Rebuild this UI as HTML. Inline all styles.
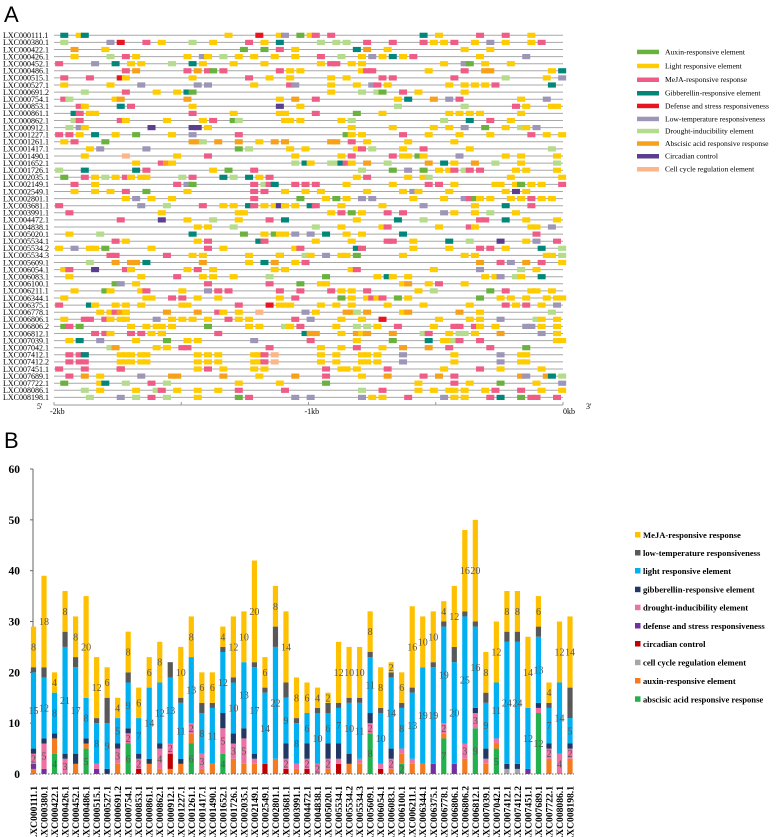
<!DOCTYPE html>
<html><head><meta charset="utf-8">
<style>
html,body{margin:0;padding:0;background:#fff;}
svg{display:block;font-family:"Liberation Serif",serif;}
</style></head>
<body>
<svg id="fig" width="777" height="837" viewBox="0 0 777 837" xmlns="http://www.w3.org/2000/svg">
<text x="4" y="22" font-family="Liberation Sans, sans-serif" font-size="22">A</text>
<text x="4" y="448" font-family="Liberation Sans, sans-serif" font-size="22">B</text>
<g id="pa"></g>
<g id="pb"></g>
</svg>
<script>
const genes = ["LXC000111.1","LXC000380.1","LXC000422.1","LXC000426.1","LXC000452.1","LXC000486.1","LXC000515.1","LXC000527.1","LXC000691.2","LXC000754.1","LXC000853.1","LXC000861.1","LXC000862.1","LXC000912.1","LXC001227.1","LXC001261.1","LXC001417.1","LXC001490.1","LXC001652.1","LXC001726.1","LXC002035.1","LXC002149.1","LXC002549.1","LXC002801.1","LXC003681.1","LXC003991.1","LXC004472.1","LXC004838.1","LXC005020.1","LXC005534.1","LXC005534.2","LXC005534.3","LXC005609.1","LXC006054.1","LXC006083.1","LXC006100.1","LXC006211.1","LXC006344.1","LXC006375.1","LXC006778.1","LXC006806.1","LXC006806.2","LXC006812.1","LXC007039.1","LXC007042.1","LXC007412.1","LXC007412.2","LXC007451.1","LXC007689.1","LXC007722.1","LXC008086.1","LXC008198.1"];
// Panel A element positions (percent of -2kb..0kb) with type code
const elementRows = [
"G2 L5 G6 L34 D40 L44 T45 A48 L50 M51 M54 G72 L75 M83 M88 L93",
"R2 T11 D13 M18 L21 R27 L31 M38 L41 G44 R52 R55 R57 M61 M66 M72 L74 L76 M78 L82 T85 L88 L93 M95",
"B4 L10 A37 A41 M44 L47 G59 B61 L65 L80 L85",
"L4 R11 M14 L16 L26 T29 L30 R33 L36 L39 L43 L47 M52 R56 L60 T62 L64 G66 L68 M70 L83 T92",
"M1 T8 G12 L15 L17 R23 G27 L29 L35 L41 L52 M54 M55 L58 L60 L76 T80 A81 L84 L89",
"M14 B16 M26 B28 M30 A31 M33 M44 L46 L48 L60 M61 M62 L73 M80 B84 B85 L97 G99",
"M2 M7 D13 L14 L27 M38 L42 L46 L54 L57 M64 M66 M78 R88 L96 T99",
"L2 L11 T17 T28 T30 L39 M46 T47 L54 L59 T62 M63 L65 L77 L80 L82 L84 M86 G97",
"R6 M14 L20 L24 G26 A27 L54 R60 R63 A64 M68 L71 L80",
"M2 R3 L12 B13 B26 L44 B47 M51 L67 G69 B74 T77 M79 L91 T96",
"M5 L6 G13 M15 L27 C44 L48 R67 R80 M90 L92 L97 L98",
"G4 M5 L7 L8 M27 L35 L44 L45 M51 A59 L64 L77 L79 L81 L83 L91",
"R4 M5 M13 L14 L22 L29 M31 A35 R36 L45 L46 L48 L56 R58 R76 G81 M85 L89",
"R3 T5 L6 C19 C27 C28 L30 L58 L66 L74 L77 T80 A84 L88 R91 L92 T94",
"M1 M3 L5 G8 L12 A16 L23 T27 M36 A57 L58 L60 M68 L73 L79 L85 M93 L96 L99",
"L2 M4 A10 B27 B28 R29 B32 B36 L40 B43 B45 B54 B55 M58 L61 L69 L78",
"L7 T9 T18 A36 R38 L46 L49 L59 M60 R62 L68 M72 L81 R97",
"L6 E14 L24 M30 L47 L56 M58 M66 L68 L69 A71 L72 T79 L88 L91 L98",
"L16 M21 B22 L23 R47 G49 L50 R54 R55 G56 M57 L58 B61 R65 B73 G76 L78 B82 R86 L91 R98",
"R1 G6 G16 M18 L31 A34 M39 R60 A66 T69 A72 L75 L77 M78 R80 M81 M83 L90 L92 L98",
"A2 M6 L8 R10 L12 M14 L15 L17 L18 R25 M27 G33 R35 G38 L40 M42 L59 M61 L69 L72 R73 L89 L99",
"M4 L8 L24 M24 T26 A27 M39 R41 M42 G43 M47 M49 M51 L57 L66 M73 M75 L78 L86 L87 L90 A91 L93 L95 M99",
"L4 L8 L11 M14 A18 L26 M39 M41 L45 L49 L52 L61 L68 T70 L71 L77 L88 C90 L92",
"L14 T16 L19 L23 M39 A48 L53 A55 L57 T60 T62 L70 L76 T80 M81 A82 L83 L85 L89 L91 M93 L95 L97",
"M1 T17 R22 M29 L33 L35 G38 M39 L41 L43 C44 L45 L47 G50 M51 L56 L64 T72 L82 G88 M93",
"M3 L21 L36 L37 L54 M56 A58 L60 M65 M68 T76 L78 L82 R85 L90",
"M13 C21 L26 R31 L36 M42 G45 L59 G67 R72 M83 M84 G88 L92 L98",
"L28 L30 R35 R51 L56 L64 M65 L75 M81 L82 L93 L94 T97",
"L3 R9 G27 A37 L41 A43 L44 L45 T47 T50 G53 L57 L60 G68 M94",
"M12 L14 L28 M30 G40 M41 L51 L58 M65 M66 L70 G77 R81 C87 L92 T94 M98",
"L1 T4 L7 L8 A10 L19 M30 L33 L47 M48 G59 M60 L70 L77 M83 M85 L88 G95 R99",
"M11 M12 M22 L27 L29 L38 A44 L44 R49 L50 T53 L56 L57 A59 L68 L80 L82 L96 L97 R99",
"R7 B12 B15 B16 G18 B29 L38 G41 B43 L47 M49 B83 M87 T89 B92 M95 L99",
"L2 M3 C8 M14 L15 L26 M28 L31 L43 L45 L58 M59 L74 T83 R91 L94",
"L3 L17 M24 L29 L31 L35 R42 A53 L63 G65 L66 L69 L84 L86 T87 R90 L91 G95",
"A12 T13 L16 M30 M42 A48 L52 L53 L68 B69 L73 M75 L80",
"L4 A10 L11 L17 M18 L25 T30 M32 M34 M44 M48 M54 L56 L58 M61 L71 R74 A85 M88 L93 L94 L97",
"L2 L18 L19 M23 M25 L28 L32 L44 M47 A56 L58 L61 M62 L63 M64 A67 L69 A83 L87 L89 L92 L96 L98 L99",
"M1 G7 L8 L12 L14 L17 L25 L26 M36 D42 L44 L45 L46 L52 L55 L58 L65 L72 L81 M88 L90 M92 L95 T98",
"L9 L11 M12 B13 B14 L14 B22 B28 M32 L33 L36 E40 T49 L51 B57 B58 R59 B61 L68 B69 B79 L83 R97",
"L2 M6 M7 M10 L11 L13 L14 T20 L23 L25 L27 L30 M34 L36 L38 M47 T50 L56 L60 D64 L75 L81 L83 T87 R94 L95 L98",
"A2 M3 A5 L15 L18 L20 L21 L23 A30 L38 L40 R45 L46 M48 L55 R59 R61 L63 M67 L74 M78 M79 M82 L83 L86 T92 T93 L95 L98",
"M8 M10 L11 M15 M17 L19 M21 L21 M32 G49 B50 B51 L56 B59 L60 B61 B66 R72 M73 L77 R79 R80 L82 B87 T95 L98",
"L3 G5 T9 L16 A22 L26 L28 T39 M50 L59 A66 G73 L76 L77 R78 M79 M83 L98 L99",
"R11 B12 L20 L22 M25 M26 M42 L52 L56 M59 L64 B68 B73 M77 M85 A92",
"M3 M5 M6 G6 L13 L14 L15 L17 L18 L28 L30 L32 L39 L40 M41 E43 L52 L55 L60 L61 L63 T68 L78 T87 L91 L92",
"M3 M5 M6 L13 L14 L15 L17 L18 L28 L30 L32 L39 L40 M41 E43 L52 L55 L60 L61 L63 T68 L78 T87 L91 L92",
"M1 M6 D13 M13 L28 M30 L33 L39 L41 M53 L56 L57 L59 M65 L76 M83 L87 L95",
"M3 B6 L9 T17 B23 B24 B33 L40 B47 M53 L60 B65 M72 B75 M78 B91 T92 B96 G97 R99",
"A2 L9 G10 R14 M19 R22 L36 L44 A53 L71 M78 L81 A87 L94 T99",
"R6 L9 L16 R20 M21 L24 L28 L32 M36 M45 R60 M64 L71 L74 L77 L78 L80 L84 M86 M91 L95 L99",
"R7 T13 R16 M19 R22 L28 A36 M38 T47 T50 T60 L62 L64 M69 T76 L78 L80 M85 G87 A91 M93 M94 M98"
];
const legendACodes = ["A","L","M","G","D","T","R","B","C","E"];
const legendANames = ["Auxin-responsive element","Light responsive element","MeJA-responsive response","Gibberellin-responsive element","Defense and stress responsiveness","Low-temperature responsiveness","Drought-inducibility element","Abscisic acid responsive response","Circadian control","Cell cycle regulation element"];
const axisATicks = ["-2kb","-1kb","0kb"];

// Panel B series (stack bottom->top)
const sAbscisic = [0,0,4,0,0,5,0,0,0,6,0,0,0,0,0,6,0,0,4,0,0,0,0,0,0,0,0,0,0,0,0,0,8,0,0,2,0,0,0,7,0,0,9,0,5,0,0,0,12,0,0,0];
const sAuxin    = [1,0,3,0,2,1,0,0,2,0,0,2,1,1,2,2,1,2,0,3,2,2,0,3,0,1,0,0,1,0,2,2,0,0,1,2,2,2,0,1,0,3,0,2,1,0,0,0,0,3,0,3];
const sCellCycle= [0,0,0,0,0,0,0,0,0,0,0,0,0,0,0,0,0,0,0,0,0,0,0,0,0,0,0,0,0,0,0,0,0,0,0,0,0,0,0,0,0,0,0,0,0,1,1,0,0,0,0,0];
const sCircadian= [0,0,0,0,0,0,0,0,0,0,1,0,0,3,0,0,0,0,0,0,0,0,2,0,1,0,1,0,0,2,0,0,0,1,0,0,0,0,0,0,0,0,0,0,0,0,0,0,0,0,0,0];
const sDefense  = [1,1,0,0,0,0,1,0,0,0,0,0,0,0,0,0,0,0,0,0,0,0,0,0,0,0,0,0,0,0,0,0,0,0,0,0,0,0,2,0,2,0,0,0,0,0,0,1,0,0,0,0];
const sDrought  = [2,5,0,3,0,0,1,0,3,2,2,0,4,2,0,2,3,0,5,3,5,1,0,0,2,1,2,2,2,1,0,1,2,1,2,1,1,0,0,2,0,3,3,1,1,0,0,0,1,2,4,2];
const sGibber   = [1,1,1,1,2,1,0,1,1,1,1,1,1,0,1,0,0,0,3,2,2,1,0,0,3,0,3,0,3,3,2,0,2,0,2,0,0,0,0,0,0,0,1,2,0,1,1,0,1,1,0,1];
const sLight    = [15,12,8,21,17,8,8,9,5,9,7,14,12,13,11,13,8,11,12,10,13,17,14,22,9,8,6,10,6,7,10,11,11,10,14,8,13,19,19,19,20,25,16,9,11,24,24,12,13,7,14,5];
const sLowTemp  = [1,2,0,3,2,0,1,5,0,2,0,0,0,3,1,0,2,1,1,1,0,1,1,4,3,1,0,1,2,1,1,1,1,1,1,1,1,0,1,1,3,1,1,2,0,2,2,0,2,1,0,6];
const sMeJA     = [8,18,4,8,8,20,12,6,4,8,6,6,8,0,10,8,6,6,4,12,10,20,6,8,14,8,6,4,2,12,10,10,8,8,2,6,16,10,10,4,12,16,20,8,12,8,8,14,6,4,12,14];
const yTicks = [0,10,20,30,40,50,60];
const legendBNames = ["MeJA-responsive response","low-temperature responsiveness","light responsive element","gibberellin-responsive element","drought-inducibility element","defense and stress responsiveness","circadian control","cell cycle regulation element","auxin-responsive element","abscisic acid responsive response"];

const NS="http://www.w3.org/2000/svg";
function mk(tag, attrs, parent){const e=document.createElementNS(NS,tag);for(const k in attrs)e.setAttribute(k,attrs[k]);parent.appendChild(e);return e;}
const colA={A:"#6AB23E",L:"#FFCC00",M:"#EF5D87",G:"#00877A",D:"#E8141F",T:"#9D96B8",R:"#B4DC8C",B:"#F7A11A",C:"#5B3F8E",E:"#FDB68A"};

// ---------- Panel A ----------
const pa=document.getElementById('pa');
const trackX0=54, trackX1=563, row0=35.3, rowStep=7.1;
function xA(p){return 50+p*5.133;}
genes.forEach((g,i)=>{
  const y=row0+i*rowStep;
  const t=mk('text',{x:3,y:y+2.8,'font-size':8},pa);t.textContent=g;
  
  
  const ln=mk('line',{x1:trackX0,x2:trackX1,y1:y,y2:y,stroke:'#a8a8a8','stroke-width':1},pa);
  
  
  const items=(elementRows[i]||"").trim().split(/\s+/);
  items.forEach(it=>{
    const c=it[0], p=parseFloat(it.slice(1));
    const r=mk('rect',{x:xA(p),y:y-2.6,width:8,height:5.2,fill:colA[c]},pa);
    
    
  });
});
// axis A
const axY=405;
mk('line',{x1:trackX0,x2:trackX1,y1:axY,y2:axY,stroke:'#999','stroke-width':1},pa);
[0,1,2,3,4].forEach(k=>{const x=trackX0+k*(trackX1-trackX0)/4;mk('line',{x1:x,x2:x,y1:axY,y2:axY-3,stroke:'#999'},pa);});
const tkPos=[trackX0,trackX0+(trackX1-trackX0)/2,trackX1];
axisATicks.forEach((s,k)=>{const t=mk('text',{x:tkPos[k]+(k==2?0:-4),y:axY+9,'font-size':8},pa);t.textContent=s;
  
  });
let t5=mk('text',{x:37,y:axY+4,'font-size':8},pa);t5.textContent="5'";
let t3=mk('text',{x:586,y:axY+4,'font-size':8},pa);t3.textContent="3'";
// legend A
const legAy=[51.7,65.7,79.5,93,105.7,118.7,130.8,143.3,156,169];
legendACodes.forEach((c,k)=>{
  const y=legAy[k];
  const r=mk('rect',{x:637,y:y-2,width:22,height:4.5,fill:colA[c]},pa);
  
  
  const t=mk('text',{x:665,y:y+2.6,'font-size':7.6},pa);t.textContent=legendANames[k];
  
  
});

// ---------- Panel B ----------
const pb=document.getElementById('pb');
const y0=774, unit=5.083, bx0=33.5, bstep=10.52, bw=5.2;
function yB(v){return y0-v*unit;}
function xB(i){return bx0+i*bstep;}
const seriesList=[sAbscisic,sAuxin,sCellCycle,sCircadian,sDefense,sDrought,sGibber,sLight,sLowTemp,sMeJA];
const seriesCol=["#22B14C","#F47B20","#A6A6A6","#C00000","#7030A0","#EC72A6","#203864","#00B0F0","#595959","#FFC000"];
const seriesNames=["abscisic","auxin","cell-cycle","circadian","defense","drought","gibberellin","light","low-temp","meja"];
// axis
mk('line',{x1:33,x2:33,y1:yB(60),y2:y0,stroke:'#666','stroke-width':1},pb);
yTicks.forEach(v=>{
  mk('line',{x1:30,x2:33,y1:yB(v),y2:yB(v),stroke:'#666'},pb);
  const t=mk('text',{x:20,y:yB(v)+4,'font-size':11.5,'font-weight':'bold','text-anchor':'end'},pb);t.textContent=v;
  
  
});
genes.forEach((g,i)=>{
  let acc=0;
  const cx=xB(i);
  seriesList.forEach((s,k)=>{
    const v=s[i]; if(!v) return;
    const r=mk('rect',{x:cx-bw/2,y:yB(acc+v),width:bw,height:v*unit,fill:seriesCol[k]},pb);
    
    
    if(v>=2 && (k===0||k===5||k===7||k===8||k===9)){
      const t=mk('text',{x:cx,y:yB(acc+v/2)+3.5,'font-size':10,'text-anchor':'middle',fill:'#555'},pb);t.textContent=v;
      
      
    }
    acc+=v;
  });
  const lt=mk('text',{transform:`translate(${cx+3.5},786) rotate(-90)`,'font-size':9.6,'font-weight':'bold','text-anchor':'end'},pb);
  lt.textContent=g;
  
  
});
mk('line',{x1:33,x2:xB(genes.length-1)+4,y1:y0,y2:y0,stroke:'#666','stroke-width':1,'stroke-dasharray':'1.5,1.5'},pb);
// legend B (top->bottom)
const legBy=[535,553,571,589.7,607.7,626,644,662.7,681,699.3];
legendBNames.forEach((n,k)=>{
  const ci=9-k;
  const r=mk('rect',{x:635,y:legBy[k]-3,width:5.5,height:5.5,fill:seriesCol[ci]},pb);
  
  
  const t=mk('text',{x:643,y:legBy[k]+3,'font-size':8.6,'font-weight':'bold'},pb);t.textContent=n;
  
  
});
</script>
</body></html>
